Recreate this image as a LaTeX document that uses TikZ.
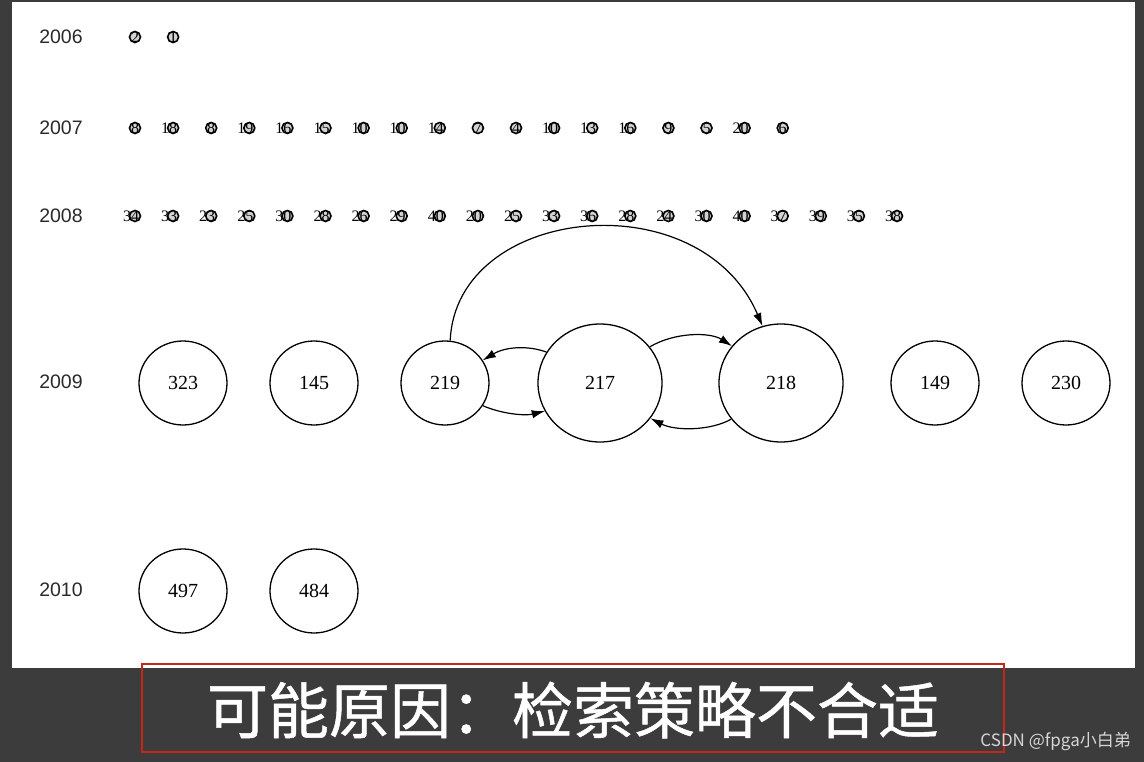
\documentclass[tikz,border=0pt]{standalone}
\usepackage{fontspec}
\setmainfont{Liberation Serif}
\newfontfamily\yearfont{Liberation Sans}
\newfontfamily\cjk{Noto Sans CJK SC}
\newfontfamily\cjkbold[FakeBold=0.8]{Noto Sans CJK SC}
\usetikzlibrary{shapes.geometric,arrows.meta}
\definecolor{dark}{HTML}{3C3C3C}
\definecolor{redbox}{HTML}{C4261A}
\definecolor{wm}{HTML}{D6D6D6}
\definecolor{yeargray}{HTML}{2A2A2A}
\begin{document}
\begin{tikzpicture}[x=1pt,y=-1pt,
  yearlbl/.style={inner sep=0pt,text=yeargray,font=\yearfont\fontsize{19.5}{24}\selectfont},
  sn/.style={circle,draw,line width=1.6pt,fill=gray!35,minimum size=11pt,inner sep=0pt,
    font=\fontsize{16}{18}\selectfont},
  bn/.style={ellipse,draw,line width=1.3pt,inner sep=0pt,minimum width=88pt,minimum height=84pt,
    font=\fontsize{20}{24}\selectfont},
  bbn/.style={bn,minimum width=124pt,minimum height=118pt},
  arr/.style={line width=1.2pt,-{Latex[length=13pt,width=8.5pt]}}]
\useasboundingbox (0,0) rectangle (1144,762);
\fill[dark] (0,0) rectangle (1144,762);
\fill[white] (12,2) rectangle (1135,668);
% year labels
\node[yearlbl] (y2006) at (61,37) {2006};
\node[yearlbl] (y2007) at (61,128) {2007};
\node[yearlbl] (y2008) at (61,216) {2008};
\node[yearlbl] (y2009) at (61,382) {2009};
\node[yearlbl] (y2010) at (61,590) {2010};
% small nodes
\foreach \l [count=\i from 0] in {2,1}
  \node[sn] (a\i) at ({135+38.1*\i},37) {\rlap{\hspace{4pt}\llap{\l}}};
\foreach \l [count=\i from 0] in {8,18,8,19,16,15,10,10,14,7,4,10,13,16,9,5,20,6}
  \node[sn] (b\i) at ({135+38.1*\i},128) {\rlap{\hspace{4pt}\llap{\l}}};
\foreach \l [count=\i from 0] in {34,33,23,25,30,28,26,29,40,20,25,33,36,28,24,30,40,37,39,35,38}
  \node[sn] (c\i) at ({135+38.1*\i},216) {\rlap{\hspace{4pt}\llap{\l}}};
% 2009
\node[bn] (n323) at (183,383) {323};
\node[bn] (n145) at (314,383) {145};
\node[bn] (n219) at (445,383) {219};
\node[bbn] (n217) at (600,383) {217};
\node[bbn] (n218) at (781,383) {218};
\node[bn] (n149) at (935,383) {149};
\node[bn] (n230) at (1066,383) {230};
% 2010
\node[bn] (n497) at (183,591) {497};
\node[bn] (n484) at (314,591) {484};
% edges
\draw[arr] (n219.83) .. controls (456,205) and (700,180) .. (n218.108);
\draw[arr] (n217.150) .. controls (527,345) and (505,347) .. (n219.31);
\draw[arr] (n219.-31) .. controls (502,414) and (525,416) .. (n217.207);
\draw[arr] (n217.36) .. controls (675,332) and (710,332) .. (n218.143);
\draw[arr] (n218.216) .. controls (710,431) and (675,431) .. (n217.325);
% caption
\draw[redbox,line width=1.5pt] (142,664) rectangle (1004,752);
\node[text=white,inner sep=0pt,font=\cjkbold\fontsize{61}{64}\selectfont] (cap) at (573,710) {可能原因：检索策略不合适};
\node[text=wm,inner sep=0pt,anchor=east,font=\cjk\fontsize{17}{19}\selectfont] (wmk) at (1131,741) {CSDN @fpga小白弟};
\end{tikzpicture}
\end{document}
